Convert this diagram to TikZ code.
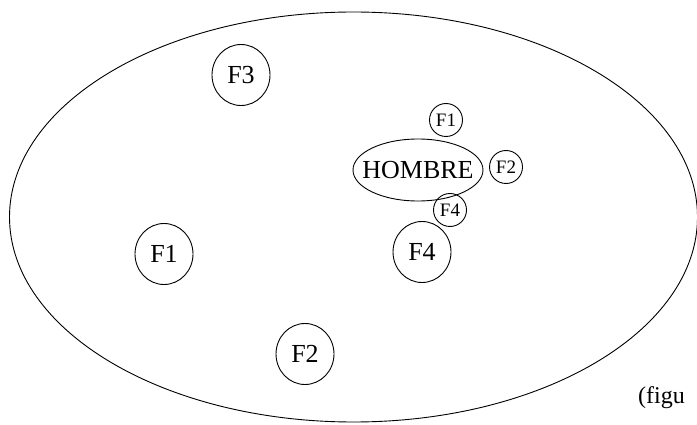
\documentclass[tikz,border=0pt]{standalone}
\usepackage{fontspec}
\setmainfont{Liberation Serif}
\usetikzlibrary{shapes.geometric}
\begin{document}
\begin{tikzpicture}[x=1pt,y=-1pt,
  every node/.style={inner sep=0pt},
  bigf/.style={draw,ellipse,minimum width=58pt,minimum height=61pt,line width=0.9pt,font=\fontsize{26}{26}\selectfont},
  smallf/.style={draw,circle,minimum size=33pt,line width=0.9pt,font=\fontsize{19}{19}\selectfont},
  outer/.style={draw,ellipse,line width=0.9pt},
]
\useasboundingbox (0,0) rectangle (697,425);
\node[outer,minimum width=688pt,minimum height=410pt] (world) at (353.5,217) {};
\node[bigf] (f3) at (241,75) {F3};
\node[bigf] (f1) at (164,254) {F1};
\node[bigf] (f2) at (305,354) {F2};
\node[bigf] (f4) at (422,252) {F4};
\node[font=\fontsize{26}{26}\selectfont] (hombre) at (418,170) {HOMBRE};
\draw[line width=0.9pt] (hombre.center) ellipse [x radius=65, y radius=31];
\node[smallf] (sf1) at (446,120) {F1};
\node[smallf] (sf2) at (506,167) {F2};
\node[smallf] (sf4) at (450,210) {F4};
\node[anchor=west,font=\fontsize{24}{24}\selectfont] (cap) at (638,398) {(figu};
\end{tikzpicture}
\end{document}
